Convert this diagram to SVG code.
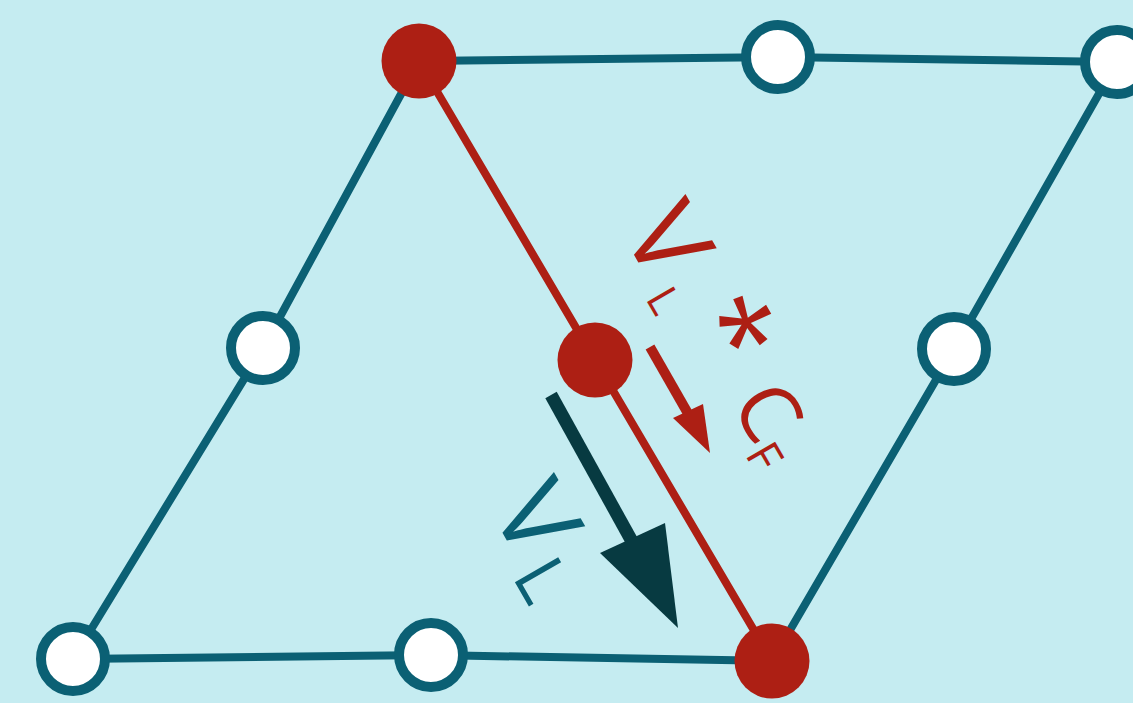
<svg xmlns="http://www.w3.org/2000/svg" width="1133" height="703" viewBox="0 0 1133 703">
  <style>
    .edge { stroke: #0b6074; stroke-width: 8; stroke-linecap: round; fill: none; }
    .redEdge { stroke: #ad1f14; stroke-width: 8; stroke-linecap: round; fill: none; }
    .wnode { fill: #ffffff; stroke: #0b6074; stroke-width: 10; }
    .rnode { fill: #ad1f14; }
    .lbl { font-family: "Open Sans", "Liberation Sans", sans-serif; font-weight: 380; }
    .sub { font-weight: 460; }
    .red { fill: #ad1f14; }
    .teal { fill: #0b6074; }
  </style>
  <rect x="0" y="0" width="1133" height="703" fill="#c5ecf1"/>
  <g id="connectors">
    <line class="edge" x1="419" y1="61" x2="778" y2="57"/>
    <line class="edge" x1="778" y1="57" x2="1117" y2="62"/>
    <line class="edge" x1="419" y1="61" x2="263" y2="348"/>
    <line class="edge" x1="263" y1="348" x2="73" y2="659"/>
    <line class="edge" x1="73" y1="659" x2="431" y2="655"/>
    <line class="edge" x1="431" y1="655" x2="772" y2="661"/>
    <line class="edge" x1="1117" y1="62" x2="954" y2="349"/>
    <line class="edge" x1="954" y1="349" x2="772" y2="661"/>
    <line class="redEdge" x1="419" y1="61" x2="595" y2="360"/>
    <line class="redEdge" x1="595" y1="360" x2="772" y2="661"/>
  </g>
  <g id="arrow-red">
    <line x1="650" y1="347" x2="690" y2="417" stroke="#ad1f14" stroke-width="10"/>
    <polygon points="673,418 703,404 710,453" fill="#ad1f14"/>
  </g>
  <g id="arrow-dark">
    <line x1="551" y1="395" x2="634" y2="545" stroke="#073a41" stroke-width="13"/>
    <polygon points="600,553 665,523 678,628" fill="#073a41"/>
  </g>
  <g id="n1"><circle class="rnode" cx="419" cy="61" r="37.5"/></g>
  <g id="n2"><circle class="wnode" cx="778" cy="57" r="32"/></g>
  <g id="n3"><circle class="wnode" cx="1117" cy="62" r="32"/></g>
  <g id="n4"><circle class="wnode" cx="263" cy="348" r="32"/></g>
  <g id="n5"><circle class="rnode" cx="595" cy="360" r="37.5"/></g>
  <g id="n6"><circle class="wnode" cx="954" cy="349" r="32"/></g>
  <g id="n7"><circle class="wnode" cx="73" cy="659" r="32"/></g>
  <g id="n8"><circle class="wnode" cx="431" cy="655" r="32"/></g>
  <g id="n9"><circle class="rnode" cx="772" cy="661" r="37.5"/></g>
  <g id="label-red" class="lbl red" transform="translate(622.5,235) rotate(60)">
    <text x="-4" y="0" font-size="105">V</text>
    <text class="sub" x="66" y="12" font-size="43">L</text>
    <text x="106" y="-2" font-size="115" font-weight="400">*</text>
    <text x="200" y="-9" font-size="82">C</text>
    <text class="sub" x="251" y="4" font-size="46">F</text>
  </g>
  <g id="label-dark" class="lbl teal" transform="translate(491,513) rotate(60)">
    <text x="-4" y="0" font-size="105">V</text>
    <text class="sub" x="65" y="14" font-size="70">L</text>
  </g>
</svg>
